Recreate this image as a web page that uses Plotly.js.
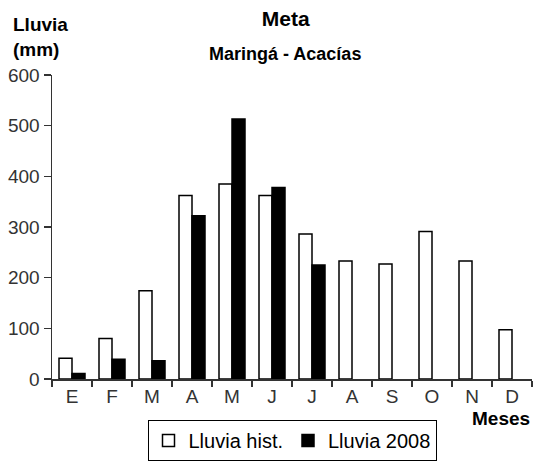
<!DOCTYPE html>
<html>
<head>
<meta charset="utf-8">
<script src="https://cdn.plot.ly/plotly-3.0.1.min.js"></script>
<style>html,body{margin:0;padding:0;background:#fff;}#chart{width:534px;height:461px;}</style>
</head>
<body>
<div id="chart"></div>
<script>
const months = ["E","F","M","A","M ","J","J ","A ","S","O","N","D"];
const monthLabels = ["E","F","M","A","M","J","J","A","S","O","N","D"];
const lluviaHist = [41, 80, 174, 362, 385, 362, 286, 233, 227, 291, 233, 97];
const lluvia2008 = [11, 39, 36, 322, 513, 378, 225, null, null, null, null, null];
const seriesNames = ["Lluvia hist.", "Lluvia 2008"];

const traces = [
  {type:"bar", x: months, y: lluviaHist, name: seriesNames[0],
   marker:{color:"#ffffff", line:{color:"#000000", width:1.5}}},
  {type:"bar", x: months, y: lluvia2008, name: seriesNames[1],
   marker:{color:"#000000", line:{color:"#000000", width:1.5}}}
];

const layout = {
  width:534, height:461,
  margin:{l:52, r:2, t:74.5, b:81.5},
  paper_bgcolor:"#fff", plot_bgcolor:"#fff",
  font:{family:"Liberation Sans, Arial, sans-serif", color:"#333", size:19},
  barmode:"group", bargap:0.35, bargroupgap:0,
  showlegend:true,
  legend:{orientation:"h", x:0.5, xref:"paper", xanchor:"center", y:0, yref:"container", yanchor:"bottom",
    bordercolor:"#000", borderwidth:1, font:{size:20, color:"#000"}, itemwidth:30, tracegroupgap:0},
  title:{text:"<b>Meta</b>", font:{size:21, color:"#000"}, x:0.535, xanchor:"center", y:0.975, yanchor:"top", yref:"container"},
  xaxis:{type:"category", tickmode:"array", tickvals: months, ticktext: monthLabels,
    tickson:"boundaries", ticks:"outside", ticklen:6, tickcolor:"#333", tickwidth:1.5,
    showline:true, linecolor:"#333", linewidth:1.5, showgrid:false, zeroline:false,
    tickfont:{size:19, color:"#333"}, fixedrange:true},
  yaxis:{range:[0,600], tickvals:[0,100,200,300,400,500,600], ticks:"outside", ticklen:7, tickcolor:"#333", tickwidth:1.5,
    showline:true, linecolor:"#333", linewidth:1.5, showgrid:false, zeroline:false,
    tickfont:{size:19, color:"#333"}, fixedrange:true},
  annotations:[
    {text:"<b>Maringá - Acacías</b>", xref:"paper", yref:"paper", x:0.485, y:1.11, xanchor:"center", yanchor:"top",
     showarrow:false, font:{size:18, color:"#000"}},
    {text:"<b>Lluvia</b><br><b>(mm)</b>", xref:"paper", yref:"paper", x:-0.085, y:1.208, xanchor:"left", yanchor:"top",
     showarrow:false, align:"left", font:{size:19, color:"#000"}},
    {text:"<b>Meses</b>", xref:"paper", yref:"paper", x:1, y:-0.09, xanchor:"right", yanchor:"top",
     showarrow:false, font:{size:19, color:"#000"}}
  ]
};

Plotly.newPlot("chart", traces, layout, {displayModeBar:false, staticPlot:true});
</script>
</body>
</html>
